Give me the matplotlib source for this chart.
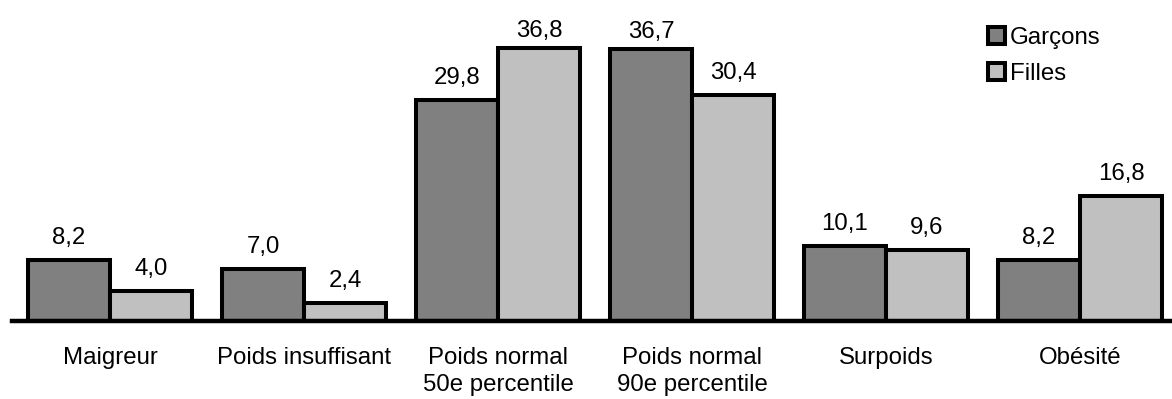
import matplotlib
matplotlib.use("Agg")
import matplotlib.pyplot as plt
import numpy as np

plt.rcParams['font.family'] = ['Liberation Sans', 'DejaVu Sans']

categories = ["Maigreur", "Poids insuffisant", "Poids normal\n50e percentile",
              "Poids normal\n90e percentile", "Surpoids", "Obésité"]
garcons = [8.2, 7.0, 29.8, 36.7, 10.1, 8.2]
filles = [4.0, 2.4, 36.8, 30.4, 9.6, 16.8]
series_names = ["Garçons", "Filles"]

W, H = 1172, 399
fig = plt.figure(figsize=(W / 100, H / 100), dpi=100)
ax = fig.add_axes([12 / W, 78 / H, 1160 / W, 321 / H])

x = np.arange(len(categories))
bw = 0.423
b1 = ax.bar(x - bw / 2, garcons, bw, color="#808080", edgecolor="black",
            linewidth=2.9, label=series_names[0], zorder=3)
b2 = ax.bar(x + bw / 2, filles, bw, color="#c0c0c0", edgecolor="black",
            linewidth=2.9, label=series_names[1], zorder=3)

# value labels; the tallest ones are pulled in so they stay inside the figure
for bars, vals in ((b1, garcons), (b2, filles)):
    for rect, v in zip(bars, vals):
        off = 8 if v < 35 else 4
        ax.annotate(f"{v:.1f}".replace(".", ","),
                    (rect.get_x() + rect.get_width() / 2, v),
                    xytext=(0, off), textcoords="offset points",
                    ha="center", va="bottom", fontsize=17.3)

ax.set_xlim(-0.505, 5.474)
ax.set_ylim(0, 321 / 7.42)
ax.set_xticks(x)
ax.set_xticklabels(categories, fontsize=17.3, linespacing=1.3)
ax.tick_params(axis="x", length=0, pad=19)
ax.set_yticks([])
for s in ("top", "right", "left"):
    ax.spines[s].set_visible(False)
ax.spines["bottom"].set_linewidth(3.2)
ax.spines["bottom"].set_zorder(4)

leg = ax.legend(loc="upper left", bbox_to_anchor=(988 / W, 1 - 27 / H),
                bbox_transform=fig.transFigure, frameon=False, fontsize=17.3,
                handlelength=0.72, handleheight=0.72, handletextpad=0.18,
                labelspacing=0.58, borderpad=0, borderaxespad=0)

fig.savefig("out.png", dpi=100)
